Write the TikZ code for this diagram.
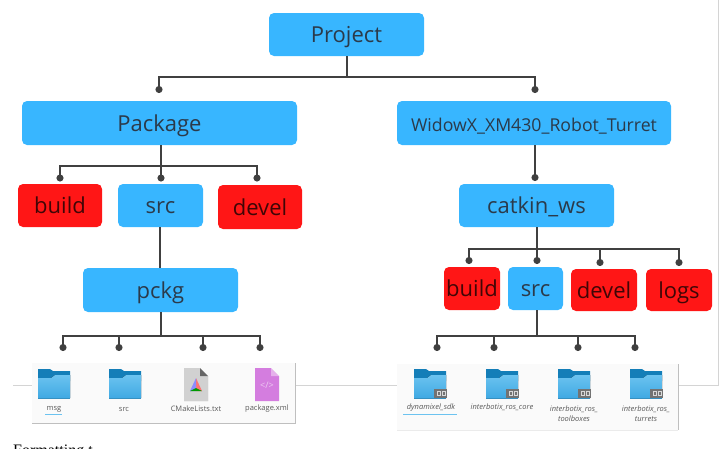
\documentclass[tikz,border=0pt]{standalone}
\usepackage{fontspec}
\setmainfont{Liberation Serif}
\setsansfont{Open Sans}
\usetikzlibrary{arrows.meta}
\definecolor{boxblue}{HTML}{38B6FF}
\definecolor{boxred}{HTML}{FF1616}
\definecolor{inktext}{HTML}{2B3A4A}
\definecolor{linegray}{HTML}{D4D4D4}
\definecolor{folderdark}{HTML}{147EB8}
\definecolor{foldertop}{HTML}{6CC3F0}
\definecolor{folderbase}{HTML}{3FA9E3}
\definecolor{xmlpink}{HTML}{D47DDF}
\definecolor{selectline}{HTML}{6CC3F0}
\tikzset{
    bluebox/.style={fill=boxblue, rounded corners=5pt, text=inktext, text height=16.5pt, text depth=0pt, font=\sffamily\fontsize{22}{26}\selectfont},
    redbox/.style={bluebox, fill=boxred, text=black!75!boxred},
    branch/.style={draw=black!75, line width=1.6pt},
    tip/.style={branch, -{Circle[length=7pt,width=7pt]}},
    filelabel/.style={font=\sffamily\fontsize{7.5}{10}\selectfont, text=black!65, align=center},
    italiclabel/.style={filelabel, font=\sffamily\itshape\fontsize{7.5}{10}\selectfont},
    selected/.style={draw=selectline, line width=0.8pt},
    panel/.style={fill=black!2}
}
% one box given by its corners in pixels
\newcommand{\treebox}[7]{\node[#1, minimum width=#4pt-#2pt, minimum height=#5pt-#3pt, inner sep=0pt] (#6) at ({(#2+#4)/2},{(#3+#5)/2}) {#7};}
% folder icon
\newcommand{\foldericon}[2]{
    \fill[folderdark] (#1,#2) -- ++(12,0) -- ++(3,2) -- ++(17,0) -- ++(0,10) -- ++(-32,0) -- cycle;
    \fill[top color=foldertop, bottom color=folderbase] (#1,#2+9) -- ++(13,0) -- ++(4,-3) -- ++(15,0) -- ++(0,23) -- ++(-32,0) -- cycle;
    \fill[folderbase!85!black] (#1,#2+28.5) rectangle ++(32,1);
}
% little link badge on a folder
\newcommand{\linkbadge}[2]{
    \fill[black!55] (#1+20,#2+20) rectangle ++(13,8.5);
    \draw[white!85!black, line width=0.8pt] (#1+23,#2+22.5) rectangle ++(3,3.5) (#1+28,#2+22.5) rectangle ++(3,3.5);
}
\begin{document}
\begin{tikzpicture}[x=1pt, y=-1pt]
    \useasboundingbox (0,0) rectangle (726,448);

    % Lineas de fondo
    \draw[linegray, line width=0.8pt] (13,385) -- (718,385) -- (718,0);
    \node[anchor=north west, inner sep=0pt, font=\fontsize{16}{18}\selectfont] (caption) at (13,444.5) {Formatting t};

    % Project
    \treebox{bluebox}{269}{13}{424}{56}{project}{Project}
    \treebox{bluebox}{22}{101}{297}{145}{package}{Package}
    \treebox{bluebox, font=\sffamily\fontsize{17.7}{22}\selectfont}{397}{101}{671}{145}{turret}{WidowX\_XM430\_Robot\_Turret}
    \coordinate (projectjoin) at (347,77);
    \coordinate (packagetop) at (159,93);
    \coordinate (turrettop) at (535,93);
    \draw[branch] (project.south -| projectjoin) -- (projectjoin);
    \draw[tip] (projectjoin) -| (packagetop);
    \draw[tip] (projectjoin) -| (turrettop);

    % Package
    \treebox{redbox}{18}{184}{102}{227}{buildA}{build}
    \treebox{bluebox}{118}{184}{203}{227}{srcA}{src}
    \treebox{redbox}{218}{185}{302}{229}{develA}{devel}
    \treebox{bluebox}{83}{268}{238}{312}{pckg}{pckg}
    \coordinate (packagejoin) at (161,166);
    \draw[branch] (package.south -| packagejoin) -- (packagejoin);
    \foreach \xpos in {60,161,257}
        \draw[tip] (packagejoin) -| (\xpos,181.5);
    \draw[branch] (srcA.south -| 160,0) -- (pckg.north -| 160,0);

    % pckg
    \coordinate (pckgjoin) at (161,336);
    \draw[branch] (pckg.south -| pckgjoin) -- (pckgjoin);
    \foreach \xpos in {63,119,203,260}
        \draw[tip] (pckgjoin) -| (\xpos,351);

    % Turret
    \treebox{bluebox}{459}{184}{614}{227}{catkin}{catkin\_ws}
    \treebox{redbox}{444}{267}{500}{310}{buildB}{build}
    \treebox{bluebox}{508}{267}{563}{310}{srcB}{src}
    \treebox{redbox}{571}{269}{637}{311}{develB}{devel}
    \treebox{redbox}{646}{269}{712}{311}{logs}{logs}
    \draw[tip] (turret.south -| 535,0) -- (535,181);
    \coordinate (catkinjoin) at (537,249);
    \draw[branch] (catkin.south -| catkinjoin) -- (catkinjoin);
    \foreach \xpos/\ypos in {469/264,537/264,600/266,679/266}
        \draw[tip] (catkinjoin) -| (\xpos,\ypos);
    \coordinate (srcjoin) at (537,336);
    \draw[branch] (srcB.south -| srcjoin) -- (srcjoin);
    \foreach \xpos in {437,494,578,635}
        \draw[tip] (srcjoin) -| (\xpos,351);

    % Panel izquierdo
    \fill[panel] (32,363) rectangle (295,423);
    \draw[black!25, line width=0.8pt] (32,423) -- (295,423) -- (295,363);
    \foreach \xpos in {38,109} \foldericon{\xpos}{369}
    \fill[black!18] (184,368) -- (200,368) -- (208,376) -- (208,401) -- (184,401) -- cycle;
    \fill[black!60] (200,368) -- (208,376) -- (200,376) -- cycle;
    \fill[red!55] (196,378) -- (202,391) -- (196,391) -- cycle;
    \fill[blue!45] (196,378) -- (190,391) -- (196,391) -- cycle;
    \fill[green!60!black] (190,391) -- (202,391) -- (196,388) -- cycle;
    \fill[xmlpink] (255,368) -- (271,368) -- (279,376) -- (279,401) -- (255,401) -- cycle;
    \fill[white, opacity=0.4] (271,368) -- (279,376) -- (271,376) -- cycle;
    \node[text=white, opacity=0.6, font=\sffamily\fontsize{9}{10}\selectfont, inner sep=0pt] (xmlmark) at (267,385) {</>};
    \node[filelabel] (msg) at (54,409) {msg};
    \node[filelabel] (srcfile) at (124,409) {src};
    \node[filelabel] (cmake) at (196,409) {CMakeLists.txt};
    \node[filelabel] (xml) at (267,409) {package.xml};
    \draw[selected] (45,414) -- (62,414);

    % Panel derecho
    \fill[panel] (397,364) rectangle (678,430);
    \draw[black!25, line width=0.8pt] (678,364) -- (678,430);
    \draw[black!8, line width=0.8pt] (397,430) -- (678,430);
    \foreach \xpos in {414,486,558,630} {
        \foldericon{\xpos}{369}
        \linkbadge{\xpos}{369}
    }
    \draw[selected] (403,414) -- (457,414);
    \node[italiclabel] (dynamixel) at (431,407.5) {dynamixel\_sdk};
    \node[italiclabel] (rcore) at (502,407.5) {interbotix\_ros\_core};
    \node[italiclabel, anchor=north] (toolboxes) at (574,402.5) {interbotix\_ros\_\\toolboxes};
    \node[italiclabel, anchor=north] (turrets) at (646,402.5) {interbotix\_ros\_\\turrets};
\end{tikzpicture}
\end{document}
